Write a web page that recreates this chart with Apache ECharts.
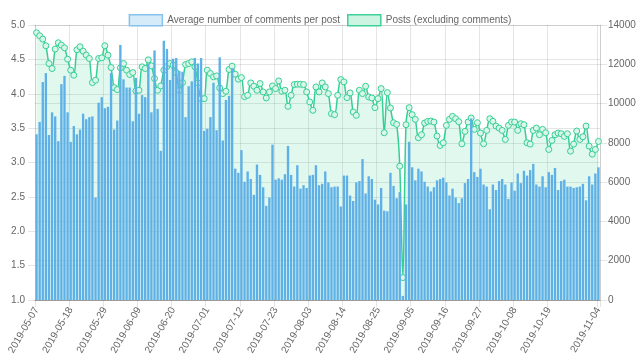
<!DOCTYPE html>
<html>
<head>
<meta charset="utf-8">
<script src="https://cdn.jsdelivr.net/npm/echarts@6/dist/echarts.min.js"></script>
<style>
html,body{margin:0;padding:0;background:#fff;}
#c{width:640px;height:361px;}
</style>
</head>
<body>
<div id="c"></div>
<script>
// Data
var startDate = '2019-05-07';
var dayCount = 182;
var tickLabelIndices = [0,11,22,33,44,55,66,77,88,99,110,121,132,143,154,165,181];

var avgComments = [
3.41,3.59,4.17,4.30,3.40,3.73,3.67,3.31,4.14,4.26,3.73,3.30,3.53,3.41,3.48,3.71,3.63,3.66,3.67,2.49,
3.87,3.95,3.79,3.81,4.30,3.48,3.61,4.71,4.21,4.09,4.09,3.60,4.23,3.71,3.98,3.95,4.44,3.73,4.63,3.78,
3.17,4.77,4.65,4.20,4.51,4.52,4.33,4.32,3.66,4.11,4.18,4.52,4.44,4.52,3.46,3.49,3.66,4.16,3.47,4.53,
3.32,3.91,3.97,4.37,2.91,2.85,3.18,2.72,2.87,2.76,2.53,2.97,2.82,2.64,2.37,2.49,3.26,2.75,2.77,2.75,
2.83,3.24,2.82,2.65,2.96,2.62,2.67,2.63,2.81,2.82,2.96,2.67,2.69,2.87,2.71,2.64,2.65,2.65,2.36,2.81,
2.81,2.52,2.44,2.71,2.73,3.05,2.55,2.80,2.76,2.46,2.39,2.63,2.30,2.29,2.85,2.66,2.48,2.57,1.06,2.39,
3.30,2.93,2.74,2.91,2.87,2.72,2.65,2.58,2.64,2.74,2.76,2.78,2.71,2.52,2.62,2.49,2.41,2.48,2.70,2.76,
3.64,2.86,2.79,2.91,2.68,2.65,2.32,2.68,2.60,2.73,2.76,2.68,2.47,2.71,2.59,2.84,2.70,2.88,2.81,2.89,
2.98,2.68,2.65,2.80,2.64,2.86,2.82,2.92,2.60,2.73,2.75,2.65,2.65,2.63,2.64,2.65,2.69,2.45,2.80,2.68,
2.84,2.93
];

var posts = [
13607,13454,13283,12943,12040,11785,12773,13096,12977,12841,12262,11700,11444,12738,12892,12670,12466,12296,11070,11189,
12296,12330,12943,12466,11836,10814,10712,11819,12040,11700,11478,11580,10644,10678,11870,11785,12228,11921,11274,10678,
10899,11700,11887,12040,11955,11580,10678,11070,11989,12040,12125,11870,11052,10252,10252,11700,11529,11359,11410,10797,
10508,10627,11734,11904,11495,11240,11325,10354,10422,11052,10882,10678,11018,10593,10286,10593,10899,10763,11155,10627,
10678,9860,10422,10967,10984,10984,10967,10593,10082,9656,10848,10593,11052,10848,10508,9486,9435,10422,11223,11104,
10303,10542,9571,9401,10678,10508,10882,10337,10286,9792,10252,10763,8515,10559,9775,9026,8941,6812,1141,8924,
9792,9435,9196,8260,8413,9009,9094,9111,9060,8345,7868,8004,8890,9196,9349,9230,9077,7953,8583,9060,
9264,8685,9026,8498,7953,8634,9230,9094,8856,8753,8634,8174,8890,9060,9060,8634,8975,8924,8004,7936,
8634,8753,8413,8685,8515,7664,8123,8413,8498,8464,8328,8464,7578,7936,8600,8174,8311,8856,7834,7425,
7664,8072
];

var seriesNames = ['Average number of comments per post', 'Posts (excluding comments)'];

// build categories
function pad(n){return n<10?'0'+n:''+n;}
var dates = [];
(function(){
  var p = startDate.split('-');
  var d = new Date(Date.UTC(+p[0], +p[1]-1, +p[2]));
  for (var i=0;i<dayCount;i++){
    dates.push(d.getUTCFullYear()+'-'+pad(d.getUTCMonth()+1)+'-'+pad(d.getUTCDate()));
    d = new Date(d.getTime()+86400000);
  }
})();
var tickSet = {};
tickLabelIndices.forEach(function(i){tickSet[i]=true;});
function showTick(i){ return !!tickSet[i]; }

var FONT = '"Liberation Sans", Arial, Helvetica, sans-serif';
var FS = 10;
var TXT = '#666';
var GRID = 'rgba(0,0,0,0.1)';
var BAR = '#5fb0e7';
var LINE = '#36cf93';
var AREA = 'rgba(54,207,147,0.22)';

var chart = echarts.init(document.getElementById('c'), null, {renderer:'canvas'});
chart.setOption({
  animation: false,
  textStyle: {fontFamily: FONT},
  legend: {
    top: 9,
    left: 'center',
    itemWidth: 33,
    itemHeight: 11,
    itemGap: 7,
    textStyle: {color: TXT, fontSize: FS, fontFamily: FONT},
    data: [
      {name: seriesNames[0], icon: 'rect', itemStyle: {color: '#d6ebfa', borderColor: '#86c2ec', borderWidth: 1.5}},
      {name: seriesNames[1], icon: 'rect', itemStyle: {color: '#cdf3e3', borderColor: '#3fd197', borderWidth: 1.5}}
    ]
  },
  grid: {left: 35, right: 40, top: 25, bottom: 61, containLabel: false},
  xAxis: {
    type: 'category',
    data: dates,
    boundaryGap: true,
    axisLine: {show: true, lineStyle: {color: 'rgba(0,0,0,0.25)'}},
    axisTick: {show: true, interval: function(i){return showTick(i);}, length: 7, lineStyle: {color: GRID}},
    splitLine: {show: true, interval: function(i){return showTick(i);}, lineStyle: {color: GRID}},
    axisLabel: {
      interval: function(i){return showTick(i);},
      rotate: 60,
      color: TXT,
      fontSize: FS,
      fontFamily: FONT,
      margin: 8
    }
  },
  yAxis: [
    {
      type: 'value', min: 1, max: 5, interval: 0.5, position: 'left',
      axisLine: {show: true, lineStyle: {color: GRID}},
      axisTick: {show: true, length: 7, lineStyle: {color: GRID}},
      splitLine: {show: true, lineStyle: {color: GRID}},
      axisLabel: {color: TXT, fontSize: FS, fontFamily: FONT, margin: 10, formatter: function(v){return v.toFixed(1);}}
    },
    {
      type: 'value', min: 0, max: 14000, interval: 2000, position: 'right',
      axisLine: {show: true, lineStyle: {color: GRID}},
      axisTick: {show: true, length: 7, lineStyle: {color: GRID}},
      splitLine: {show: true, lineStyle: {color: GRID}},
      axisLabel: {color: TXT, fontSize: FS, fontFamily: FONT, margin: 8, formatter: function(v){return String(v);}}
    }
  ],
  series: [
    {
      name: seriesNames[1],
      type: 'line',
      yAxisIndex: 1,
      data: posts,
      smooth: 0.3,
      symbol: 'circle',
      symbolSize: 6,
      showSymbol: true,
      showAllSymbol: true,
      lineStyle: {color: LINE, width: 1.5},
      itemStyle: {color: '#d8f6ea', borderColor: LINE, borderWidth: 1},
      areaStyle: {color: AREA, origin: 'start'},
      z: 2
    },
    {
      name: seriesNames[0],
      type: 'bar',
      yAxisIndex: 0,
      data: avgComments,
      barWidth: '76%',
      itemStyle: {color: BAR},
      z: 3
    }
  ]
});
</script>
</body>
</html>
